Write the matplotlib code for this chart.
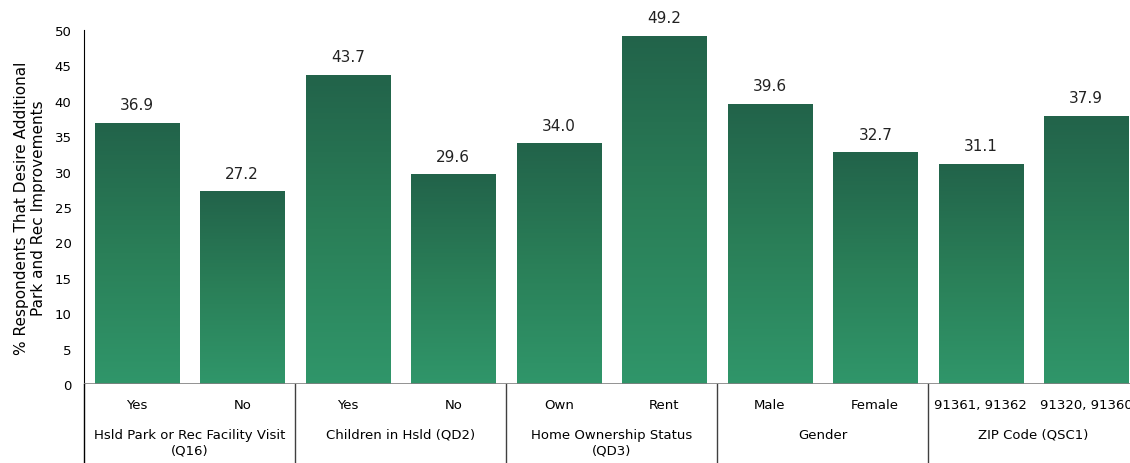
import numpy as np
import matplotlib.pyplot as plt
from matplotlib.colors import LinearSegmentedColormap
from matplotlib.transforms import blended_transform_factory

plt.rcParams['font.family'] = ['DejaVu Sans']

# bar data
sub_labels = ['Yes', 'No', 'Yes', 'No', 'Own', 'Rent', 'Male', 'Female',
              '91361, 91362', '91320, 91360']
values = [36.9, 27.2, 43.7, 29.6, 34.0, 49.2, 39.6, 32.7, 31.1, 37.9]
groups = ['Hsld Park or Rec Facility Visit\n(Q16)', 'Children in Hsld (QD2)',
          'Home Ownership Status\n(QD3)', 'Gender', 'ZIP Code (QSC1)']

fig = plt.figure(figsize=(11.3, 4.64), dpi=100)
ax = fig.add_axes([84 / 1130, 79 / 464, 1055 / 1130, 354 / 464])

x = np.arange(len(values))
bars = ax.bar(x, values, width=0.8, color='none', edgecolor='none', zorder=2)

# vertical green gradient for each bar
cmap = LinearSegmentedColormap.from_list(
    'grn', [(0.0, '#30966A'), (0.5, '#2A7F58'), (1.0, '#22634A')])
grad = np.linspace(0, 1, 256).reshape(-1, 1)
for b in bars:
    x0, w, h = b.get_x(), b.get_width(), b.get_height()
    im = ax.imshow(grad, cmap=cmap, origin='lower', aspect='auto',
                   extent=[x0, x0 + w, 0, h], zorder=2)
    im.set_clip_path(b)
    ax.annotate(f'{h:.1f}', (x0 + w / 2, h), xytext=(0, 13),
                textcoords='offset points', ha='center', va='center',
                fontsize=11, color='#222222')

ax.set_xlim(-0.5, len(values) - 0.5)
ax.set_ylim(0, 50)
ax.set_yticks(range(0, 51, 5))
ax.tick_params(axis='y', length=0, pad=9, labelsize=9.5)
ax.set_xticks([])
for s in ['top', 'right', 'bottom']:
    ax.spines[s].set_visible(False)
ax.spines['left'].set_color('black')
ax.axhline(0, color='#808080', lw=1.2, zorder=3)

ax.set_ylabel('% Respondents That Desire Additional\nPark and Rec Improvements',
              fontsize=11, labelpad=6)

# category table under the axis
tr = blended_transform_factory(ax.transData, ax.transAxes)
ax.plot([-0.5, -0.5], [0, -0.23], color='black', lw=1, transform=tr, clip_on=False)
for sep in [1.5, 3.5, 5.5, 7.5]:
    ax.plot([sep, sep], [0, -0.23], color='#404040', lw=1, transform=tr, clip_on=False)
for xi, lab in zip(x, sub_labels):
    ax.text(xi, -0.059, lab, transform=tr, ha='center', va='center', fontsize=9.5)
for gi, g in enumerate(groups):
    ax.text(2 * gi + 0.5, -0.124, g, transform=tr, ha='center', va='top',
            fontsize=9.5, linespacing=1.25)

fig.savefig('out.png', dpi=100)
